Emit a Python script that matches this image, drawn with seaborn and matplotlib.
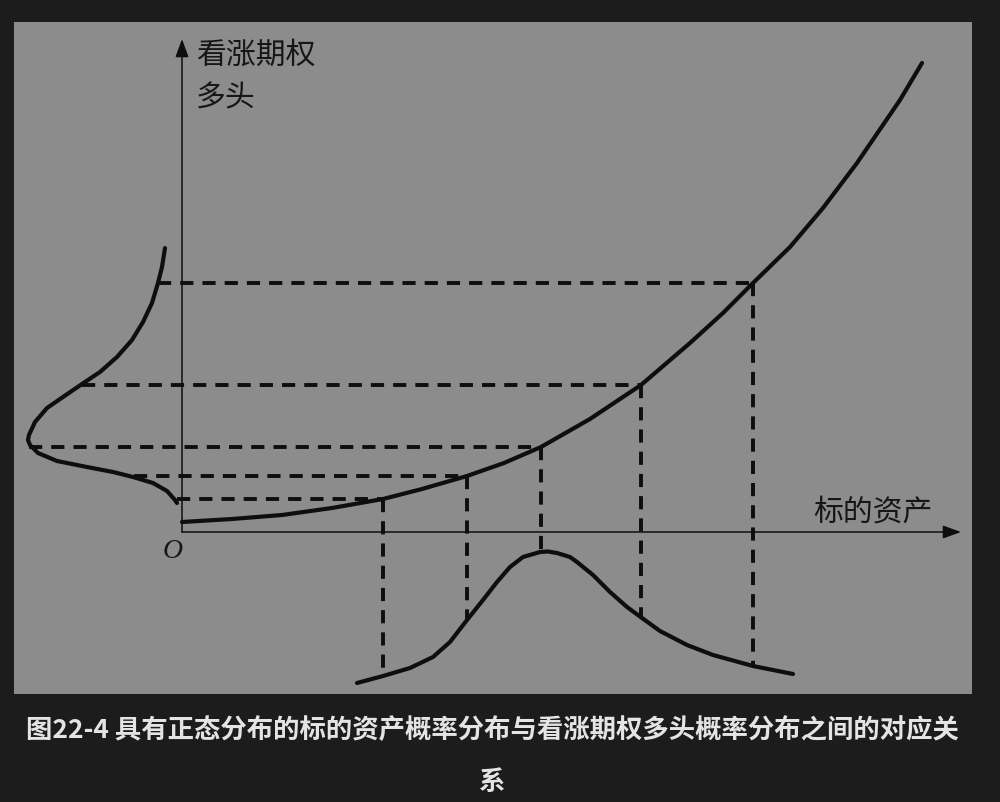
import matplotlib
matplotlib.use("Agg")
import matplotlib.pyplot as plt
import seaborn as sns
import pandas as pd

# ---------------- data ----------------
# call value curve: underlying price S -> long-call value V
call_S = [0.0, 5.0, 10.0, 15.0, 20.1, 24.0, 28.5, 32.2, 35.9, 40.8, 45.9, 50.8, 54.1, 57.1, 60.8, 64.1, 67.5, 71.8, 74.0]
call_V = [1.0, 1.3, 1.7, 2.4, 3.3, 4.3, 5.6, 6.9, 8.5, 11.3, 14.7, 18.9, 21.9, 24.9, 28.5, 32.4, 36.9, 43.2, 46.9]

# distribution of call value (drawn to the left of the vertical axis)
callpdf_V = [28.4, 26.5, 24.9, 22.9, 21.0, 19.2, 17.5, 16.0, 14.8, 13.5, 12.4, 11.0, 9.7, 9.2,
             8.7, 7.9, 7.1, 6.5, 6.0, 5.5, 4.9, 4.1, 3.2, 2.9]
callpdf_d = [1.7, 2.0, 2.4, 3.0, 3.9, 5.0, 6.5, 8.2, 10.0, 11.9, 13.5, 14.7, 15.3, 15.4,
             15.2, 14.4, 12.5, 9.5, 6.9, 4.9, 2.9, 1.5, 0.7, 0.5]

# distribution of the underlying (drawn below the horizontal axis)
assetpdf_S = [17.5, 20.1, 22.8, 25.1, 26.8, 28.5, 30.1, 31.5, 32.8, 34.1, 35.8, 36.6, 37.5, 38.8,
              39.5, 41.1, 42.8, 44.5, 46.0, 47.8, 50.5, 53.1, 57.1, 61.1]
assetpdf_d = [15.1, 14.4, 13.6, 12.5, 11.0, 8.8, 6.8, 5.0, 3.5, 2.5, 2.0, 1.95, 2.1, 2.5,
              3.0, 4.3, 6.0, 7.5, 8.6, 9.9, 11.3, 12.3, 13.4, 14.2]

# correspondence points (dashed guides)
guide_S = [20.1, 28.5, 35.9, 45.9, 57.1]
guide_V = [3.3, 5.6, 8.5, 14.7, 24.9]
guide_left_d = [0.5, 4.8, 15.3, 10.0, 2.4]    # where horizontal guide meets left curve
guide_bottom_d = [14.4, 8.8, 2.0, 8.5, 13.4]  # where vertical guide meets bottom curve

y_label_lines = ["看涨期权", "多头"]
x_label = "标的资产"
origin_label = "O"
caption_lines = ["图22-4 具有正态分布的标的资产概率分布与看涨期权多头概率分布之间的对应关", "系"]

# ---------------- styling ----------------
sns.set_theme(style="white")
plt.rcParams["font.family"] = ["Noto Sans CJK SC", "DejaVu Sans"]
plt.rcParams["lines.scale_dashes"] = False

BG = "#1c1c1c"
PANEL = "#8c8c8c"
INK = "#0e0e0e"

fig = plt.figure(figsize=(10, 8.02), dpi=100, facecolor=BG)
# gray panel: x 14..972 px, y 22..694 px
ax = fig.add_axes([14 / 1000, 1 - 694 / 802, 958 / 1000, 672 / 802])
ax.set_facecolor(PANEL)
ax.set_xlim(-16.8, 79.0)
ax.set_ylim(-16.2, 51.0)
ax.set_xticks([])
ax.set_yticks([])
for s in ax.spines.values():
    s.set_visible(False)

# axes arrows
arrow_kw = dict(arrowstyle="-|>,head_length=0.55,head_width=0.2", color=INK, lw=1.1,
                shrinkA=0, shrinkB=0, mutation_scale=20)
ax.annotate("", xy=(0, 49.3), xytext=(0, 0), arrowprops=arrow_kw)
ax.annotate("", xy=(77.9, 0), xytext=(0, 0), arrowprops=arrow_kw)

# dashed guides
dash = (0, (9.5, 6.5))
for S, V, dl, db in zip(guide_S, guide_V, guide_left_d, guide_bottom_d):
    ax.plot([-dl, S], [V, V], color=INK, lw=2.8, linestyle=dash, dash_capstyle="butt")
    ax.plot([S, S], [V, -db], color=INK, lw=2.8, linestyle=dash, dash_capstyle="butt")

# curves
df_call = pd.DataFrame({"S": call_S, "V": call_V})
sns.lineplot(data=df_call, x="S", y="V", color=INK, lw=3.0, ax=ax, estimator=None, sort=False)

df_left = pd.DataFrame({"x": [-d for d in callpdf_d], "V": callpdf_V})
sns.lineplot(data=df_left, x="x", y="V", color=INK, lw=3.0, ax=ax, estimator=None, sort=False)

df_bot = pd.DataFrame({"S": assetpdf_S, "y": [-d for d in assetpdf_d]})
sns.lineplot(data=df_bot, x="S", y="y", color=INK, lw=3.0, ax=ax, estimator=None, sort=False)

for ln in ax.get_lines():
    if ln.get_linestyle() == "-":
        ln.set_solid_joinstyle("round")

ax.set_xlabel("")
ax.set_ylabel("")

# labels
ax.text(1.4, 47.7, y_label_lines[0], fontsize=21.5, color="#161616", ha="left", va="center")
ax.text(1.4, 43.4, y_label_lines[1], fontsize=21.5, color="#161616", ha="left", va="center")
ax.text(63.1, 2.0, x_label, fontsize=21.5, color="#161616", ha="left", va="center")
ax.text(-0.9, -1.9, origin_label, fontsize=20, color="#161616", ha="center", va="center",
        family="Liberation Serif", style="italic")

# caption
fig.text(0.492, 1 - 730 / 802, caption_lines[0], ha="center", va="center", fontsize=19,
         weight="bold", color="#e4e4e4")
fig.text(0.492, 1 - 782 / 802, caption_lines[1], ha="center", va="center", fontsize=19,
         weight="bold", color="#e4e4e4")

fig.savefig("out.png", dpi=100, facecolor=BG)
